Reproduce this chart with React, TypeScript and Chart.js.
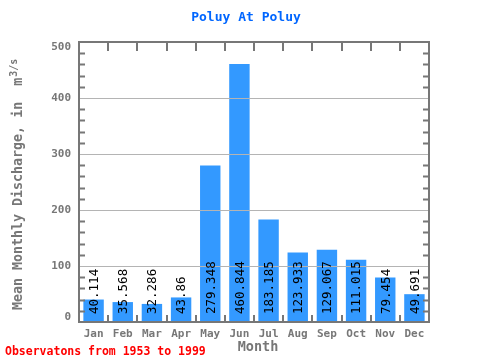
import React, { useEffect, useRef } from "react";
import { Chart, registerables } from "chart.js";

Chart.register(...registerables);

const months = ["Jan", "Feb", "Mar", "Apr", "May", "Jun", "Jul", "Aug", "Sep", "Oct", "Nov", "Dec"];
const discharge = [40.114, 35.568, 32.286, 43.86, 279.348, 460.844, 183.185, 123.933, 129.067, 111.015, 79.454, 49.691];
const valueLabels = ["40.114", "35.568", "32.286", "43.86", "279.348", "460.844", "183.185", "123.933", "129.067", "111.015", "79.454", "49.691"];
const yTicks = [0, 100, 200, 300, 400, 500];

const titleText = "Poluy At Poluy";
const xTitle = "Month";
const yTitleMain = "Mean Monthly Discharge, in  m";
const yTitleSup = "3/s";
const footerText = "Observatons from 1953 to 1999";

const MONO = "'DejaVu Sans Mono', monospace";
const AXIS = "#777777";

const decorPlugin = {
  id: "decor",
  afterDatasetsDraw(chart: any) {
    const { ctx, chartArea: a, scales } = chart;
    const y = scales.y;
    ctx.save();
    // gridlines over bars
    ctx.strokeStyle = "#b4b4b4";
    ctx.lineWidth = 1;
    yTicks.forEach((v) => {
      if (v === 0 || v === 500) return;
      const py = Math.round(y.getPixelForValue(v)) + 0.5;
      ctx.beginPath();
      ctx.moveTo(a.left, py);
      ctx.lineTo(a.right, py);
      ctx.stroke();
    });
    // value labels
    const meta = chart.getDatasetMeta(0);
    ctx.fillStyle = "#000";
    ctx.font = `12.5px ${MONO}`;
    ctx.textAlign = "left";
    ctx.textBaseline = "middle";
    meta.data.forEach((bar: any, i: number) => {
      ctx.save();
      ctx.translate(bar.x, a.bottom - 8);
      ctx.rotate(-Math.PI / 2);
      ctx.fillText(valueLabels[i], 0, 1);
      ctx.restore();
    });
    // frame
    ctx.strokeStyle = AXIS;
    ctx.lineWidth = 2;
    ctx.strokeRect(a.left, a.top, a.right - a.left, a.bottom - a.top);
    // minor ticks left/right
    for (let v = 20; v < 500; v += 20) {
      if (v % 100 === 0) continue;
      const py = Math.round(y.getPixelForValue(v)) + 0.5;
      ctx.beginPath();
      ctx.moveTo(a.left, py);
      ctx.lineTo(a.left + 6, py);
      ctx.moveTo(a.right, py);
      ctx.lineTo(a.right - 6, py);
      ctx.stroke();
    }
    // category boundary ticks top/bottom
    const w = (a.right - a.left) / months.length;
    for (let i = 1; i < months.length; i++) {
      const px = Math.round(a.left + i * w);
      ctx.beginPath();
      ctx.moveTo(px, a.top);
      ctx.lineTo(px, a.top + 9);
      ctx.moveTo(px, a.bottom);
      ctx.lineTo(px, a.bottom - 7);
      ctx.stroke();
    }
    // y tick labels (end labels nudged inward)
    ctx.fillStyle = AXIS;
    ctx.font = `bold 11px ${MONO}`;
    ctx.textAlign = "right";
    ctx.textBaseline = "middle";
    yTicks.forEach((v) => {
      let py = y.getPixelForValue(v);
      if (v === 500) py += 5;
      if (v === 0) py -= 5;
      ctx.fillText(String(v), a.left - 8, py);
    });
    ctx.restore();
  },
  afterDraw(chart: any) {
    const { ctx } = chart;
    ctx.save();
    // title
    ctx.fillStyle = "#0066ff";
    ctx.font = `bold 13px ${MONO}`;
    ctx.textAlign = "center";
    ctx.textBaseline = "middle";
    ctx.fillText(titleText, 246, 18);
    // x title
    ctx.fillStyle = AXIS;
    ctx.font = `bold 13.5px ${MONO}`;
    ctx.fillText(xTitle, 258, 347);
    // footer
    ctx.fillStyle = "#ff0000";
    ctx.font = `bold 11.5px ${MONO}`;
    ctx.textAlign = "left";
    ctx.fillText(footerText, 5, 352);
    // y title
    ctx.fillStyle = AXIS;
    ctx.translate(19, 310);
    ctx.rotate(-Math.PI / 2);
    ctx.font = `bold 13.3px ${MONO}`;
    ctx.textAlign = "left";
    ctx.textBaseline = "middle";
    ctx.fillText(yTitleMain, 0, 0);
    const mw = ctx.measureText(yTitleMain).width;
    ctx.font = `bold 10px ${MONO}`;
    ctx.fillText(yTitleSup, mw + 1, -5);
    ctx.restore();
  },
};

export default function App() {
  const ref = useRef<HTMLCanvasElement>(null);
  useEffect(() => {
    document.body.style.margin = "0";
    const chart = new Chart(ref.current!, {
      type: "bar",
      data: {
        labels: months,
        datasets: [
          {
            data: discharge,
            backgroundColor: "#3399ff",
            borderWidth: 0,
            barPercentage: 0.7,
            categoryPercentage: 1,
          },
        ],
      },
      options: {
        animation: false,
        responsive: false,
        maintainAspectRatio: false,
        layout: { padding: { left: 0, right: 51, top: 42, bottom: 0 } },
        plugins: { legend: { display: false }, title: { display: false }, tooltip: { enabled: false } },
        scales: {
          x: {
            grid: { display: false, drawTicks: false },
            border: { display: false },
            ticks: { color: AXIS, font: { family: MONO, size: 11, weight: "bold" }, padding: 6 },
            afterFit: (s: any) => {
              s.height = 38;
            },
          },
          y: {
            min: 0,
            max: 500,
            grid: { display: false, drawTicks: false },
            border: { display: false },
            ticks: { display: false, stepSize: 100 },
            afterFit: (s: any) => {
              s.width = 79;
            },
          },
        },
      },
      plugins: [decorPlugin],
    } as any);
    return () => chart.destroy();
  }, []);
  return (
    <div style={{ position: "absolute", left: 0, top: 0, width: 480, height: 360 }}>
      <canvas ref={ref} width={480} height={360} style={{ width: 480, height: 360 }} />
    </div>
  );
}
